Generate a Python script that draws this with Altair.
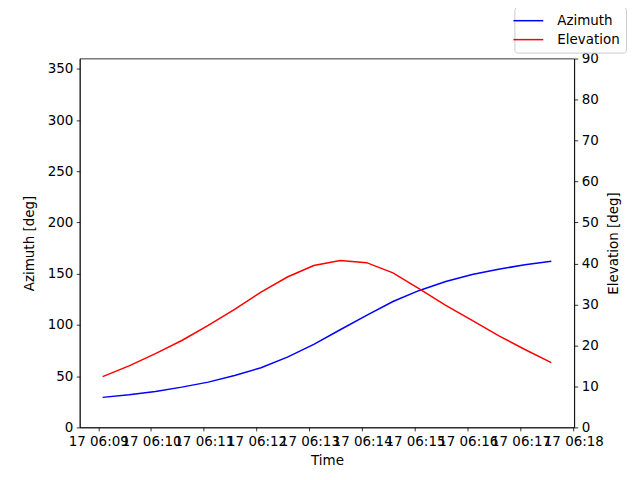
import altair as alt
import pandas as pd

times = [
    "2024-01-17T06:09:05", "2024-01-17T06:09:35", "2024-01-17T06:10:05", "2024-01-17T06:10:35",
    "2024-01-17T06:11:05", "2024-01-17T06:11:35", "2024-01-17T06:12:05", "2024-01-17T06:12:35",
    "2024-01-17T06:13:05", "2024-01-17T06:13:35", "2024-01-17T06:14:05", "2024-01-17T06:14:35",
    "2024-01-17T06:15:05", "2024-01-17T06:15:35", "2024-01-17T06:16:05", "2024-01-17T06:16:35",
    "2024-01-17T06:17:05", "2024-01-17T06:17:35",
]
azimuth = [29.3, 31.9, 35.1, 39.3, 44.2, 50.7, 58.2, 68.6, 81.0, 95.3,
           109.3, 122.9, 133.7, 142.4, 149.3, 154.4, 158.7, 162.2]
elevation = [12.4, 15.0, 18.0, 21.2, 24.9, 28.8, 33.0, 36.7, 39.5, 40.7,
             40.2, 37.7, 33.8, 29.8, 26.1, 22.4, 19.0, 15.8]
series = ["Azimuth", "Elevation"]
colors = ["blue", "red"]
az_ticks = [0, 50, 100, 150, 200, 250, 300, 350]
el_ticks = [0, 10, 20, 30, 40, 50, 60, 70, 80, 90]
minute_ticks = [9, 10, 11, 12, 13, 14, 15, 16, 17, 18]

df_az = pd.DataFrame({"time": times, "value": azimuth, "series": series[0]})
df_el = pd.DataFrame({"time": times, "value": elevation, "series": series[1]})

FONT = "DejaVu Sans"
FS = 13.5
W, H = 496, 370

x_enc = alt.X(
    "time:T",
    title="Time",
    scale=alt.Scale(domain=[
        alt.DateTime(year=2024, month=1, date=17, hours=6, minutes=8, seconds=39),
        alt.DateTime(year=2024, month=1, date=17, hours=6, minutes=18, seconds=1),
    ]),
    axis=alt.Axis(
        values=[alt.DateTime(year=2024, month=1, date=17, hours=6, minutes=m) for m in minute_ticks],
        format="%d %H:%M",
        labelOverlap=False,
        labelFlush=False,
        labelBound=False,
        grid=False,
        titlePadding=6,
    ),
)

color_enc = alt.Color(
    "series:N",
    scale=alt.Scale(domain=series, range=colors),
    legend=alt.Legend(
        title=None,
        orient="none",
        legendX=436,
        legendY=-52,
        symbolType="M-2.14,0H2.14",
        symbolSize=196,
        symbolStrokeWidth=1.5,
        symbolFillColor="transparent",
        labelOffset=21,
        rowPadding=4,
        padding=6,
        fillColor="white",
        strokeColor="#cccccc",
        cornerRadius=3,
        labelFont=FONT,
        labelFontSize=FS,
        labelColor="black",
    ),
)

az_line = alt.Chart(df_az).mark_line(strokeWidth=1.5).encode(
    x=x_enc,
    y=alt.Y(
        "value:Q",
        title="Azimuth [deg]",
        scale=alt.Scale(domain=[0, 360], nice=False, zero=False),
        axis=alt.Axis(values=az_ticks, grid=False, orient="left",
                      titleX=-50, titleY=H / 2, titleAngle=270,
                      titleAlign="center", titleBaseline="middle"),
    ),
    color=color_enc,
)

el_line = alt.Chart(df_el).mark_line(strokeWidth=1.5).encode(
    x=x_enc,
    y=alt.Y(
        "value:Q",
        title="Elevation [deg]",
        scale=alt.Scale(domain=[0, 90], nice=False, zero=False),
        axis=alt.Axis(values=el_ticks, grid=False, orient="right",
                      titleX=39, titleY=H / 2, titleAngle=270,
                      titleAlign="center", titleBaseline="middle"),
    ),
    color=color_enc,
)

chart = alt.layer(az_line, el_line).resolve_scale(y="independent").properties(
    width=W,
    height=H,
    autosize=alt.AutoSizeParams(type="none"),
    padding={"left": 72, "top": 50, "right": 58, "bottom": 40},
    background="white",
).configure_view(
    stroke="black",
    strokeWidth=0.8,
).configure_axis(
    domainColor="black",
    domainWidth=0.8,
    tickColor="black",
    tickWidth=0.8,
    tickSize=3.5,
    labelPadding=3.5,
    labelColor="black",
    labelFont=FONT,
    labelFontSize=FS,
    titleFont=FONT,
    titleFontSize=FS,
    titleFontWeight="normal",
    titleColor="black",
)

chart.save("out.html", embed_options={"renderer": "svg", "actions": False})
